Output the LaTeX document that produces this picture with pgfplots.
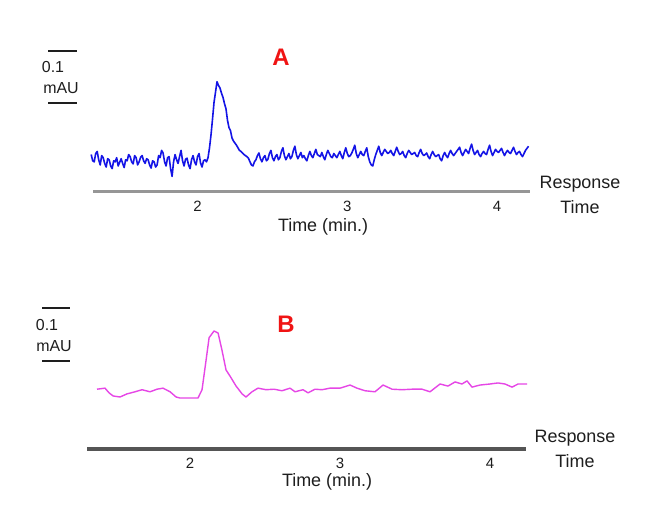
\documentclass[border=0pt]{standalone}
\usepackage{fontspec}
\setmainfont{Liberation Sans}
\usepackage{pgfplots}
\pgfplotsset{compat=1.18}

\definecolor{traceA}{RGB}{20,20,230}
\definecolor{traceB}{RGB}{230,70,230}
\definecolor{titlered}{RGB}{240,20,20}
\definecolor{baseA}{RGB}{150,150,150}
\definecolor{baseB}{RGB}{85,85,85}
\definecolor{txt}{RGB}{30,30,30}

% pixel position in the 659x513 frame, y measured from the top
\newcommand{\px}[2]{({#1*1bp},{(513-#2)*1bp})}

\pgfplotsset{
  chrom/.style={
    scale only axis,
    anchor=south west,
    axis x line=bottom,
    axis y line=none,
    major tick length=0pt,
    xtick={2,3,4},
    xticklabel style={font=\fontsize{15}{15}\selectfont, text=txt, inner sep=0pt, anchor=north, yshift=-9bp},
    /pgf/number format/assume math mode=true,
    ymin=0,
    clip=false,
  },
}

\begin{document}
\begin{tikzpicture}
\useasboundingbox (0,0) rectangle (659bp,513bp);
\fill[white] (0,0) rectangle (659bp,513bp);

% ---- panel A ----
\begin{axis}[chrom,
  at={(93bp,321bp)},
  width=437bp, height=156bp,
  xmin=1.302, xmax=4.22, ymax=0.3,
  x axis line style={line width=3bp, color=baseA, -},
]
\addplot[traceA, line width=1.6bp, line join=round] coordinates {
(1.29,0.072) (1.30,0.060) (1.31,0.058) (1.32,0.074) (1.33,0.078) (1.34,0.062) (1.35,0.052) (1.36,0.070)
(1.37,0.066) (1.38,0.055) (1.39,0.048) (1.40,0.064) (1.41,0.062) (1.42,0.050) (1.43,0.045) (1.44,0.060)
(1.45,0.058) (1.46,0.066) (1.47,0.050) (1.48,0.057) (1.49,0.064) (1.50,0.055) (1.51,0.047) (1.52,0.062)
(1.53,0.060) (1.54,0.072) (1.55,0.068) (1.56,0.058) (1.57,0.054) (1.58,0.070) (1.59,0.066) (1.60,0.052)
(1.61,0.058) (1.62,0.067) (1.63,0.070) (1.64,0.060) (1.65,0.055) (1.66,0.064) (1.67,0.062) (1.68,0.052)
(1.69,0.046) (1.70,0.060) (1.71,0.058) (1.72,0.048) (1.73,0.052) (1.74,0.070) (1.75,0.066) (1.76,0.080)
(1.77,0.075) (1.78,0.058) (1.79,0.050) (1.80,0.066) (1.81,0.068) (1.82,0.045) (1.83,0.030) (1.84,0.058)
(1.85,0.072) (1.86,0.062) (1.87,0.055) (1.88,0.068) (1.89,0.080) (1.90,0.060) (1.91,0.050) (1.92,0.063)
(1.93,0.065) (1.94,0.052) (1.95,0.045) (1.96,0.062) (1.97,0.070) (1.98,0.058) (1.99,0.052) (2.00,0.068)
(2.01,0.074) (2.02,0.056) (2.03,0.048) (2.04,0.060) (2.05,0.062) (2.06,0.058) (2.07,0.066) (2.08,0.085)
(2.09,0.110) (2.10,0.140) (2.11,0.172) (2.12,0.192) (2.13,0.212) (2.14,0.205) (2.15,0.200) (2.16,0.190)
(2.17,0.182) (2.18,0.170) (2.19,0.160) (2.20,0.138) (2.21,0.124) (2.22,0.118) (2.23,0.104) (2.24,0.098)
(2.25,0.094) (2.26,0.090) (2.27,0.085) (2.28,0.080) (2.29,0.078) (2.30,0.075) (2.31,0.072) (2.32,0.070)
(2.33,0.068) (2.34,0.065) (2.35,0.058) (2.36,0.052) (2.37,0.050) (2.38,0.058) (2.39,0.062) (2.40,0.070)
(2.41,0.075) (2.42,0.064) (2.43,0.058) (2.44,0.066) (2.45,0.070) (2.46,0.060) (2.47,0.063) (2.48,0.074)
(2.49,0.080) (2.50,0.066) (2.51,0.060) (2.52,0.068) (2.53,0.072) (2.54,0.062) (2.55,0.066) (2.56,0.078)
(2.57,0.085) (2.58,0.070) (2.59,0.062) (2.60,0.068) (2.61,0.074) (2.62,0.064) (2.63,0.068) (2.64,0.080)
(2.65,0.088) (2.66,0.072) (2.67,0.064) (2.68,0.070) (2.69,0.076) (2.70,0.066) (2.71,0.070) (2.72,0.064)
(2.73,0.060) (2.74,0.070) (2.75,0.078) (2.76,0.070) (2.77,0.066) (2.78,0.074) (2.79,0.082) (2.80,0.072)
(2.81,0.070) (2.82,0.068) (2.83,0.076) (2.84,0.068) (2.85,0.062) (2.86,0.072) (2.87,0.080) (2.88,0.074)
(2.89,0.068) (2.90,0.066) (2.91,0.074) (2.92,0.070) (2.93,0.066) (2.94,0.072) (2.95,0.078) (2.96,0.070)
(2.97,0.064) (2.98,0.076) (2.99,0.085) (3.00,0.074) (3.01,0.068) (3.02,0.070) (3.03,0.075) (3.04,0.082)
(3.05,0.090) (3.06,0.074) (3.07,0.066) (3.08,0.072) (3.09,0.078) (3.10,0.072) (3.11,0.070) (3.12,0.078)
(3.13,0.085) (3.14,0.068) (3.15,0.058) (3.16,0.052) (3.17,0.050) (3.18,0.062) (3.19,0.072) (3.20,0.080)
(3.21,0.088) (3.22,0.076) (3.23,0.070) (3.24,0.076) (3.25,0.082) (3.26,0.078) (3.27,0.074) (3.28,0.076)
(3.29,0.080) (3.30,0.074) (3.31,0.070) (3.32,0.078) (3.33,0.086) (3.34,0.078) (3.35,0.072) (3.36,0.074)
(3.37,0.078) (3.38,0.070) (3.39,0.066) (3.40,0.074) (3.41,0.080) (3.42,0.076) (3.43,0.072) (3.44,0.074)
(3.45,0.076) (3.46,0.070) (3.47,0.068) (3.48,0.076) (3.49,0.082) (3.50,0.074) (3.51,0.070) (3.52,0.072)
(3.53,0.075) (3.54,0.068) (3.55,0.064) (3.56,0.072) (3.57,0.078) (3.58,0.072) (3.59,0.068) (3.60,0.070)
(3.61,0.072) (3.62,0.064) (3.63,0.060) (3.64,0.070) (3.65,0.076) (3.66,0.070) (3.67,0.066) (3.68,0.074)
(3.69,0.080) (3.70,0.074) (3.71,0.070) (3.72,0.074) (3.73,0.078) (3.74,0.082) (3.75,0.086) (3.76,0.076)
(3.77,0.070) (3.78,0.076) (3.79,0.082) (3.80,0.078) (3.81,0.074) (3.82,0.084) (3.83,0.092) (3.84,0.080)
(3.85,0.072) (3.86,0.076) (3.87,0.080) (3.88,0.072) (3.89,0.068) (3.90,0.074) (3.91,0.078) (3.92,0.074)
(3.93,0.072) (3.94,0.082) (3.95,0.090) (3.96,0.078) (3.97,0.070) (3.98,0.076) (3.99,0.082) (4.00,0.078)
(4.01,0.076) (4.02,0.080) (4.03,0.084) (4.04,0.076) (4.05,0.070) (4.06,0.076) (4.07,0.080) (4.08,0.076)
(4.09,0.074) (4.10,0.080) (4.11,0.086) (4.12,0.078) (4.13,0.072) (4.14,0.076) (4.15,0.078) (4.16,0.072)
(4.17,0.068) (4.18,0.074) (4.19,0.080) (4.20,0.084) (4.21,0.088)
};
\end{axis}

% ---- panel B ----
\begin{axis}[chrom,
  at={(87bp,64bp)},
  width=439bp, height=130bp,
  xmin=1.313, xmax=4.24, ymax=0.25,
  x axis line style={line width=3.5bp, color=baseB, -},
]
\addplot[traceB, line width=1.4bp, line join=round] coordinates {
(1.380,0.115) (1.433,0.117) (1.460,0.108) (1.487,0.102) (1.533,0.100) (1.580,0.106) (1.633,0.110)
(1.680,0.114) (1.733,0.110) (1.780,0.115) (1.820,0.117) (1.867,0.110) (1.907,0.100) (1.933,0.098)
(2.000,0.098) (2.053,0.098) (2.080,0.114) (2.107,0.171) (2.127,0.214) (2.160,0.227) (2.187,0.223)
(2.213,0.190) (2.240,0.152) (2.267,0.140) (2.307,0.121) (2.347,0.106) (2.373,0.100) (2.413,0.110)
(2.453,0.117) (2.507,0.114) (2.560,0.115) (2.613,0.112) (2.667,0.117) (2.700,0.110) (2.753,0.114)
(2.787,0.108) (2.833,0.115) (2.880,0.114) (2.933,0.117) (3.000,0.117) (3.067,0.123) (3.113,0.117)
(3.167,0.112) (3.233,0.110) (3.287,0.123) (3.347,0.115) (3.413,0.114) (3.480,0.115) (3.547,0.115)
(3.600,0.110) (3.667,0.125) (3.720,0.121) (3.767,0.129) (3.813,0.125) (3.847,0.131) (3.880,0.119)
(3.933,0.123) (4.000,0.125) (4.053,0.127) (4.100,0.125) (4.147,0.119) (4.187,0.125) (4.247,0.125)
};
\end{axis}

% ---- annotations ----
\node[text=titlered, font=\fontsize{24}{24}\selectfont\bfseries] at \px{281}{57} {A};
\node[text=titlered, font=\fontsize{24}{24}\selectfont\bfseries] at \px{286}{324} {B};

\begin{scope}[font=\fontsize{18}{25}\selectfont, text=txt]
\node at \px{323}{227} {Time (min.)};
\node at \px{327}{482} {Time (min.)};
\node[align=center] at \px{580}{194.5} {Response\\Time};
\node[align=center] at \px{575}{448.5} {Response\\Time};
\end{scope}

\begin{scope}[font=\fontsize{16}{16}\selectfont, text=txt]
\draw[txt, line width=1.3bp] \px{48}{51} -- \px{77}{51};
\draw[txt, line width=1.3bp] \px{48}{103} -- \px{77}{103};
\node at \px{53}{67} {0.1};
\node at \px{61}{88} {mAU};
\draw[txt, line width=1.3bp] \px{42}{308} -- \px{70}{308};
\draw[txt, line width=1.3bp] \px{42}{361} -- \px{70}{361};
\node at \px{47}{325} {0.1};
\node at \px{54}{346} {mAU};
\end{scope}
\end{tikzpicture}
\end{document}
